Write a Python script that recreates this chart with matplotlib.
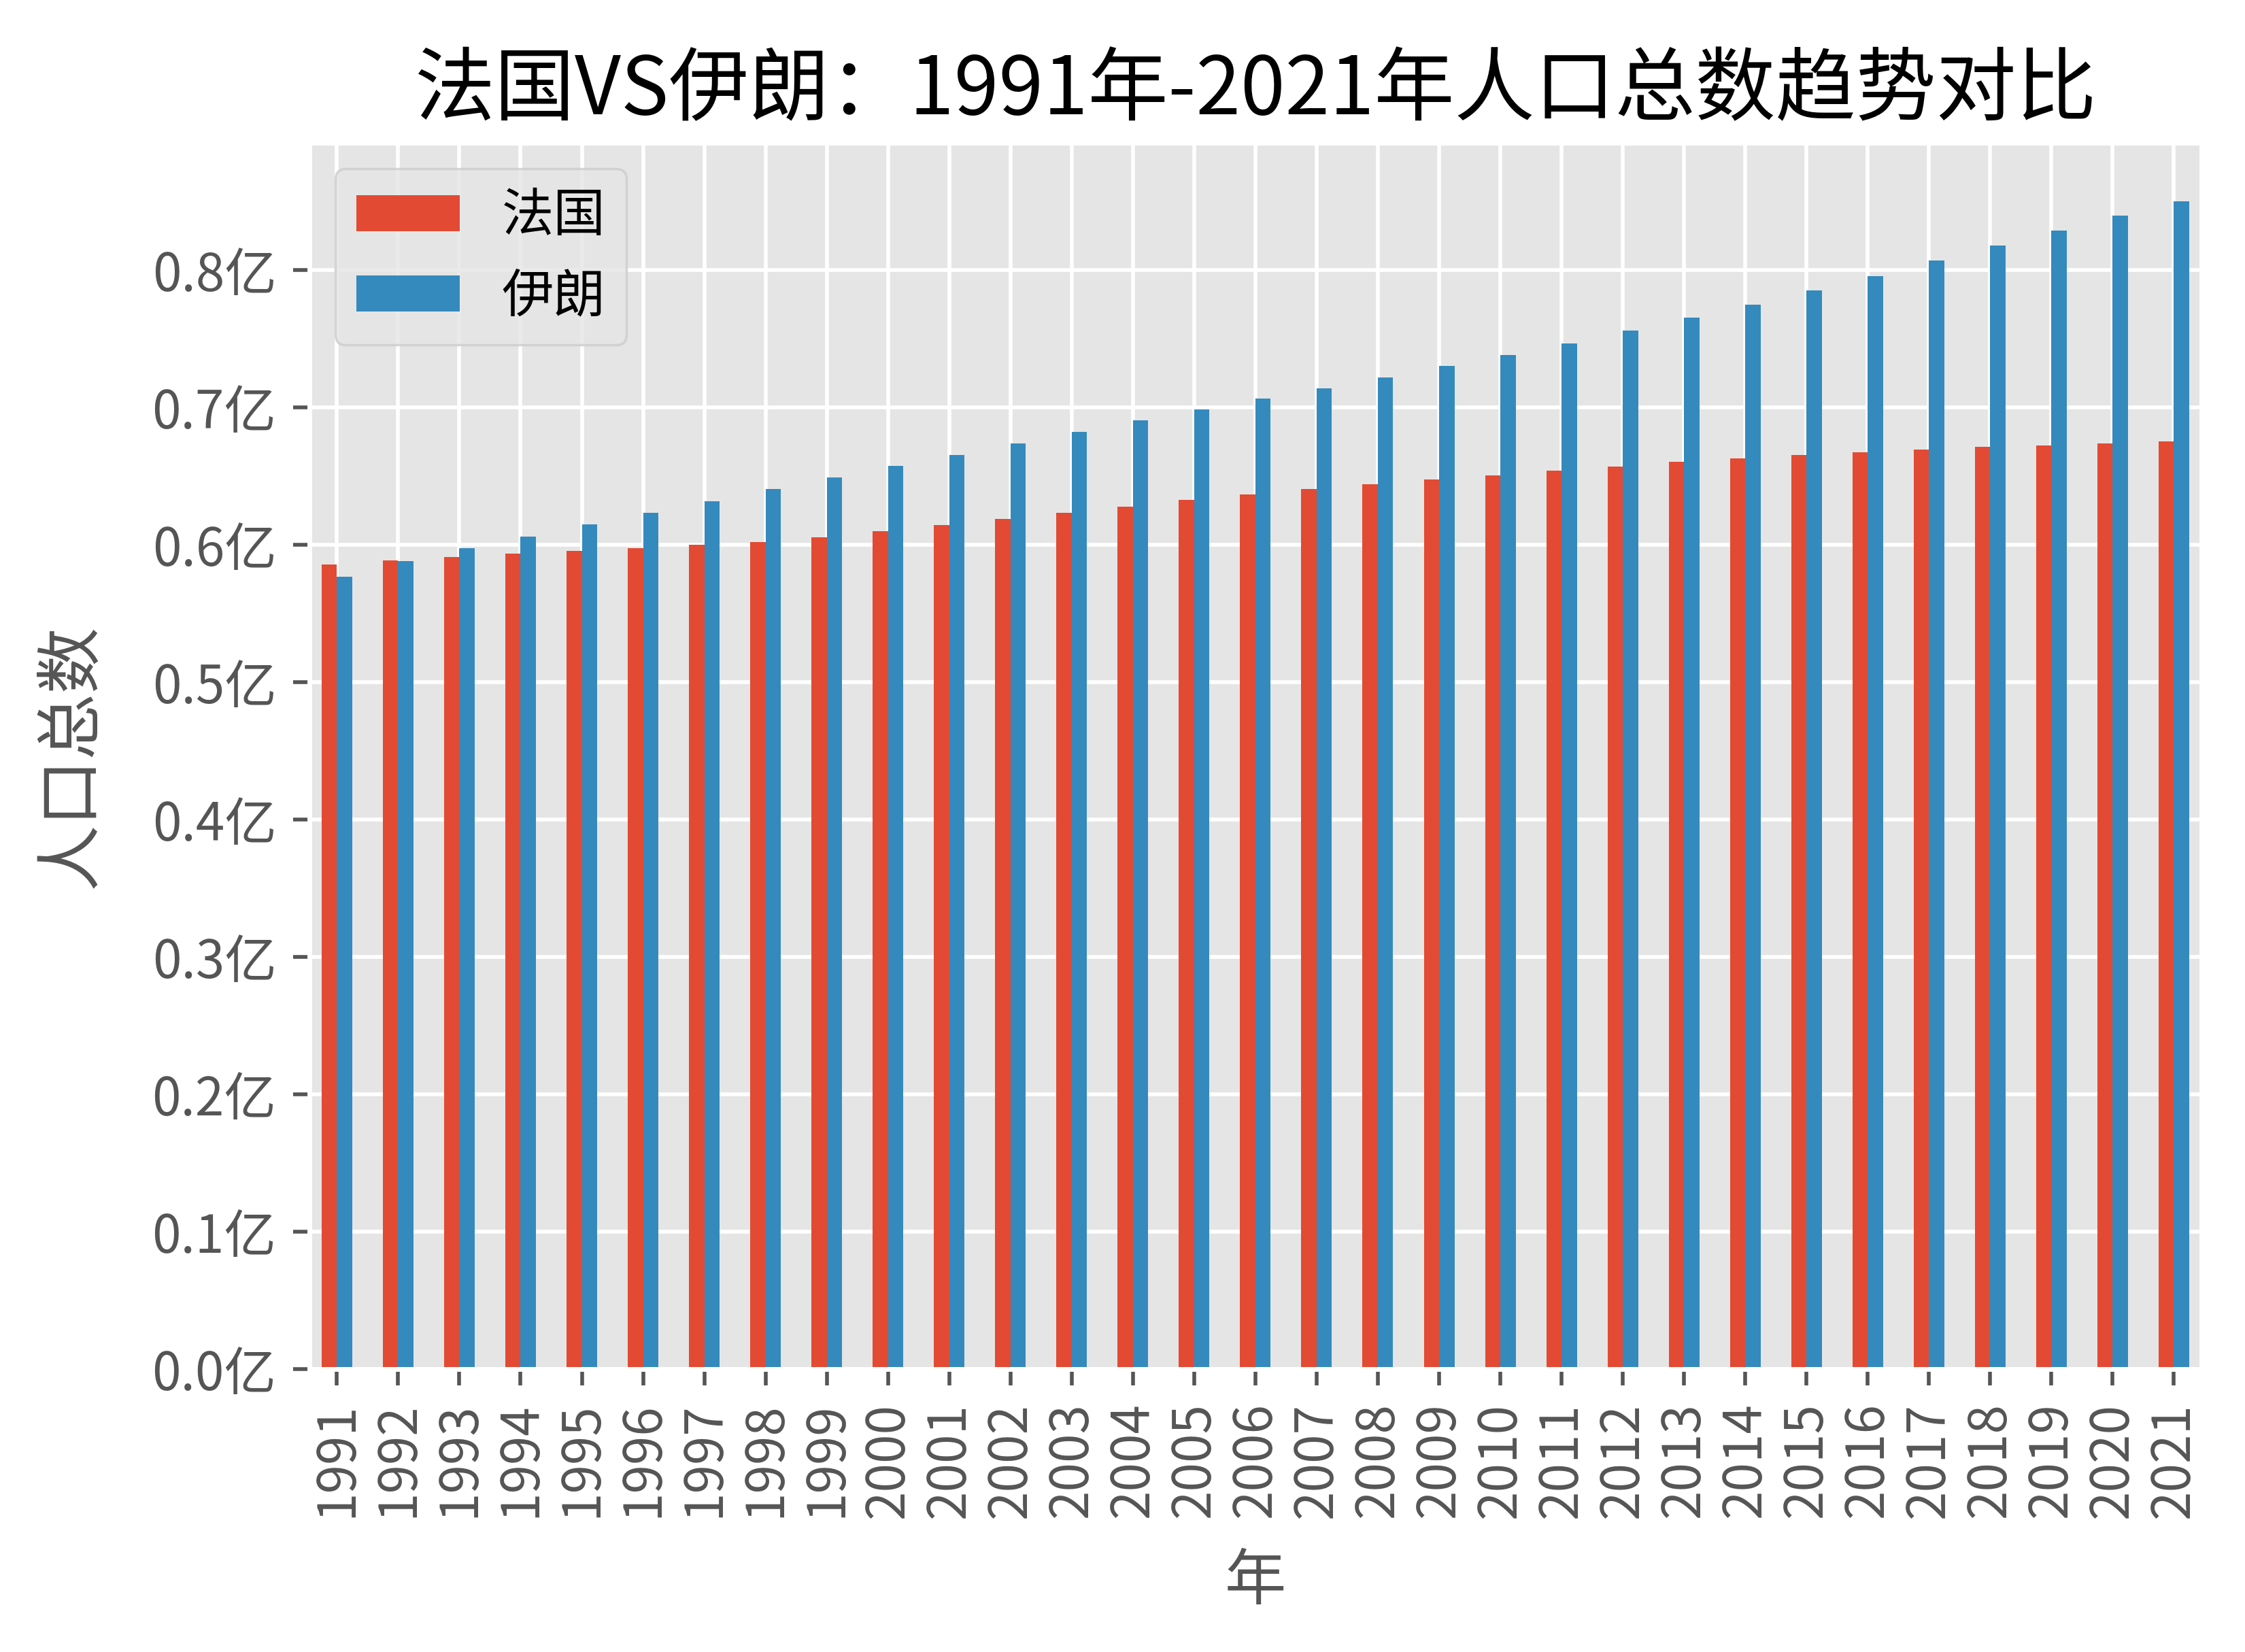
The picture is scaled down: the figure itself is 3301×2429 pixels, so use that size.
import numpy as np
import matplotlib
matplotlib.use("Agg")
from matplotlib import pyplot as plt
from matplotlib.ticker import FuncFormatter

plt.style.use("ggplot")
plt.rcParams['font.family'] = ['Noto Sans CJK SC', 'DejaVu Sans']
plt.rcParams['axes.unicode_minus'] = False

years = [str(y) for y in range(1991, 2022)]
# population in 亿
france = [0.5857, 0.5886, 0.5911, 0.5937, 0.5956, 0.5975, 0.6000, 0.6020, 0.6057, 0.6102,
          0.6146, 0.6191, 0.6235, 0.6279, 0.6329, 0.6368, 0.6408, 0.6442, 0.6477, 0.6506,
          0.6541, 0.6571, 0.6605, 0.6632, 0.6655, 0.6675, 0.6695, 0.6714, 0.6724, 0.6739,
          0.6754]
iran = [0.5768, 0.5880, 0.5975, 0.6060, 0.6150, 0.6234, 0.6316, 0.6408, 0.6492, 0.6576,
        0.6655, 0.6738, 0.6822, 0.6906, 0.6985, 0.7064, 0.7138, 0.7217, 0.7301, 0.7385,
        0.7469, 0.7563, 0.7656, 0.7749, 0.7852, 0.7956, 0.8069, 0.8182, 0.8291, 0.8399,
        0.8502]
names = ["法国", "伊朗"]

fig = plt.figure(figsize=(6.602, 4.858), dpi=500)
ax = fig.add_axes([0.1378, 0.1713, 0.8428, 0.7422])

x = np.arange(len(years))
w = 0.25
ax.bar(x - w / 2, france, w, label=names[0], color="#E24A33")
ax.bar(x + w / 2, iran, w, label=names[1], color="#348ABD")

ax.set_xticks(x)
ax.set_xticklabels(years, rotation=90, fontsize=11)
ax.set_xlim(-0.45, len(years) - 0.55)
ax.yaxis.set_major_formatter(FuncFormatter(lambda v, p: "%.1f亿" % v))
ax.tick_params(axis="y", labelsize=11)

ax.set_title("法国VS伊朗：1991年-2021年人口总数趋势对比", fontsize=17, color="black")
ax.set_xlabel("年", fontsize=13, labelpad=7)
ax.set_ylabel("人口总数", fontsize=14, labelpad=10)
ax.legend(loc="upper left", fontsize=11)

fig.savefig("out.png", dpi=500)
